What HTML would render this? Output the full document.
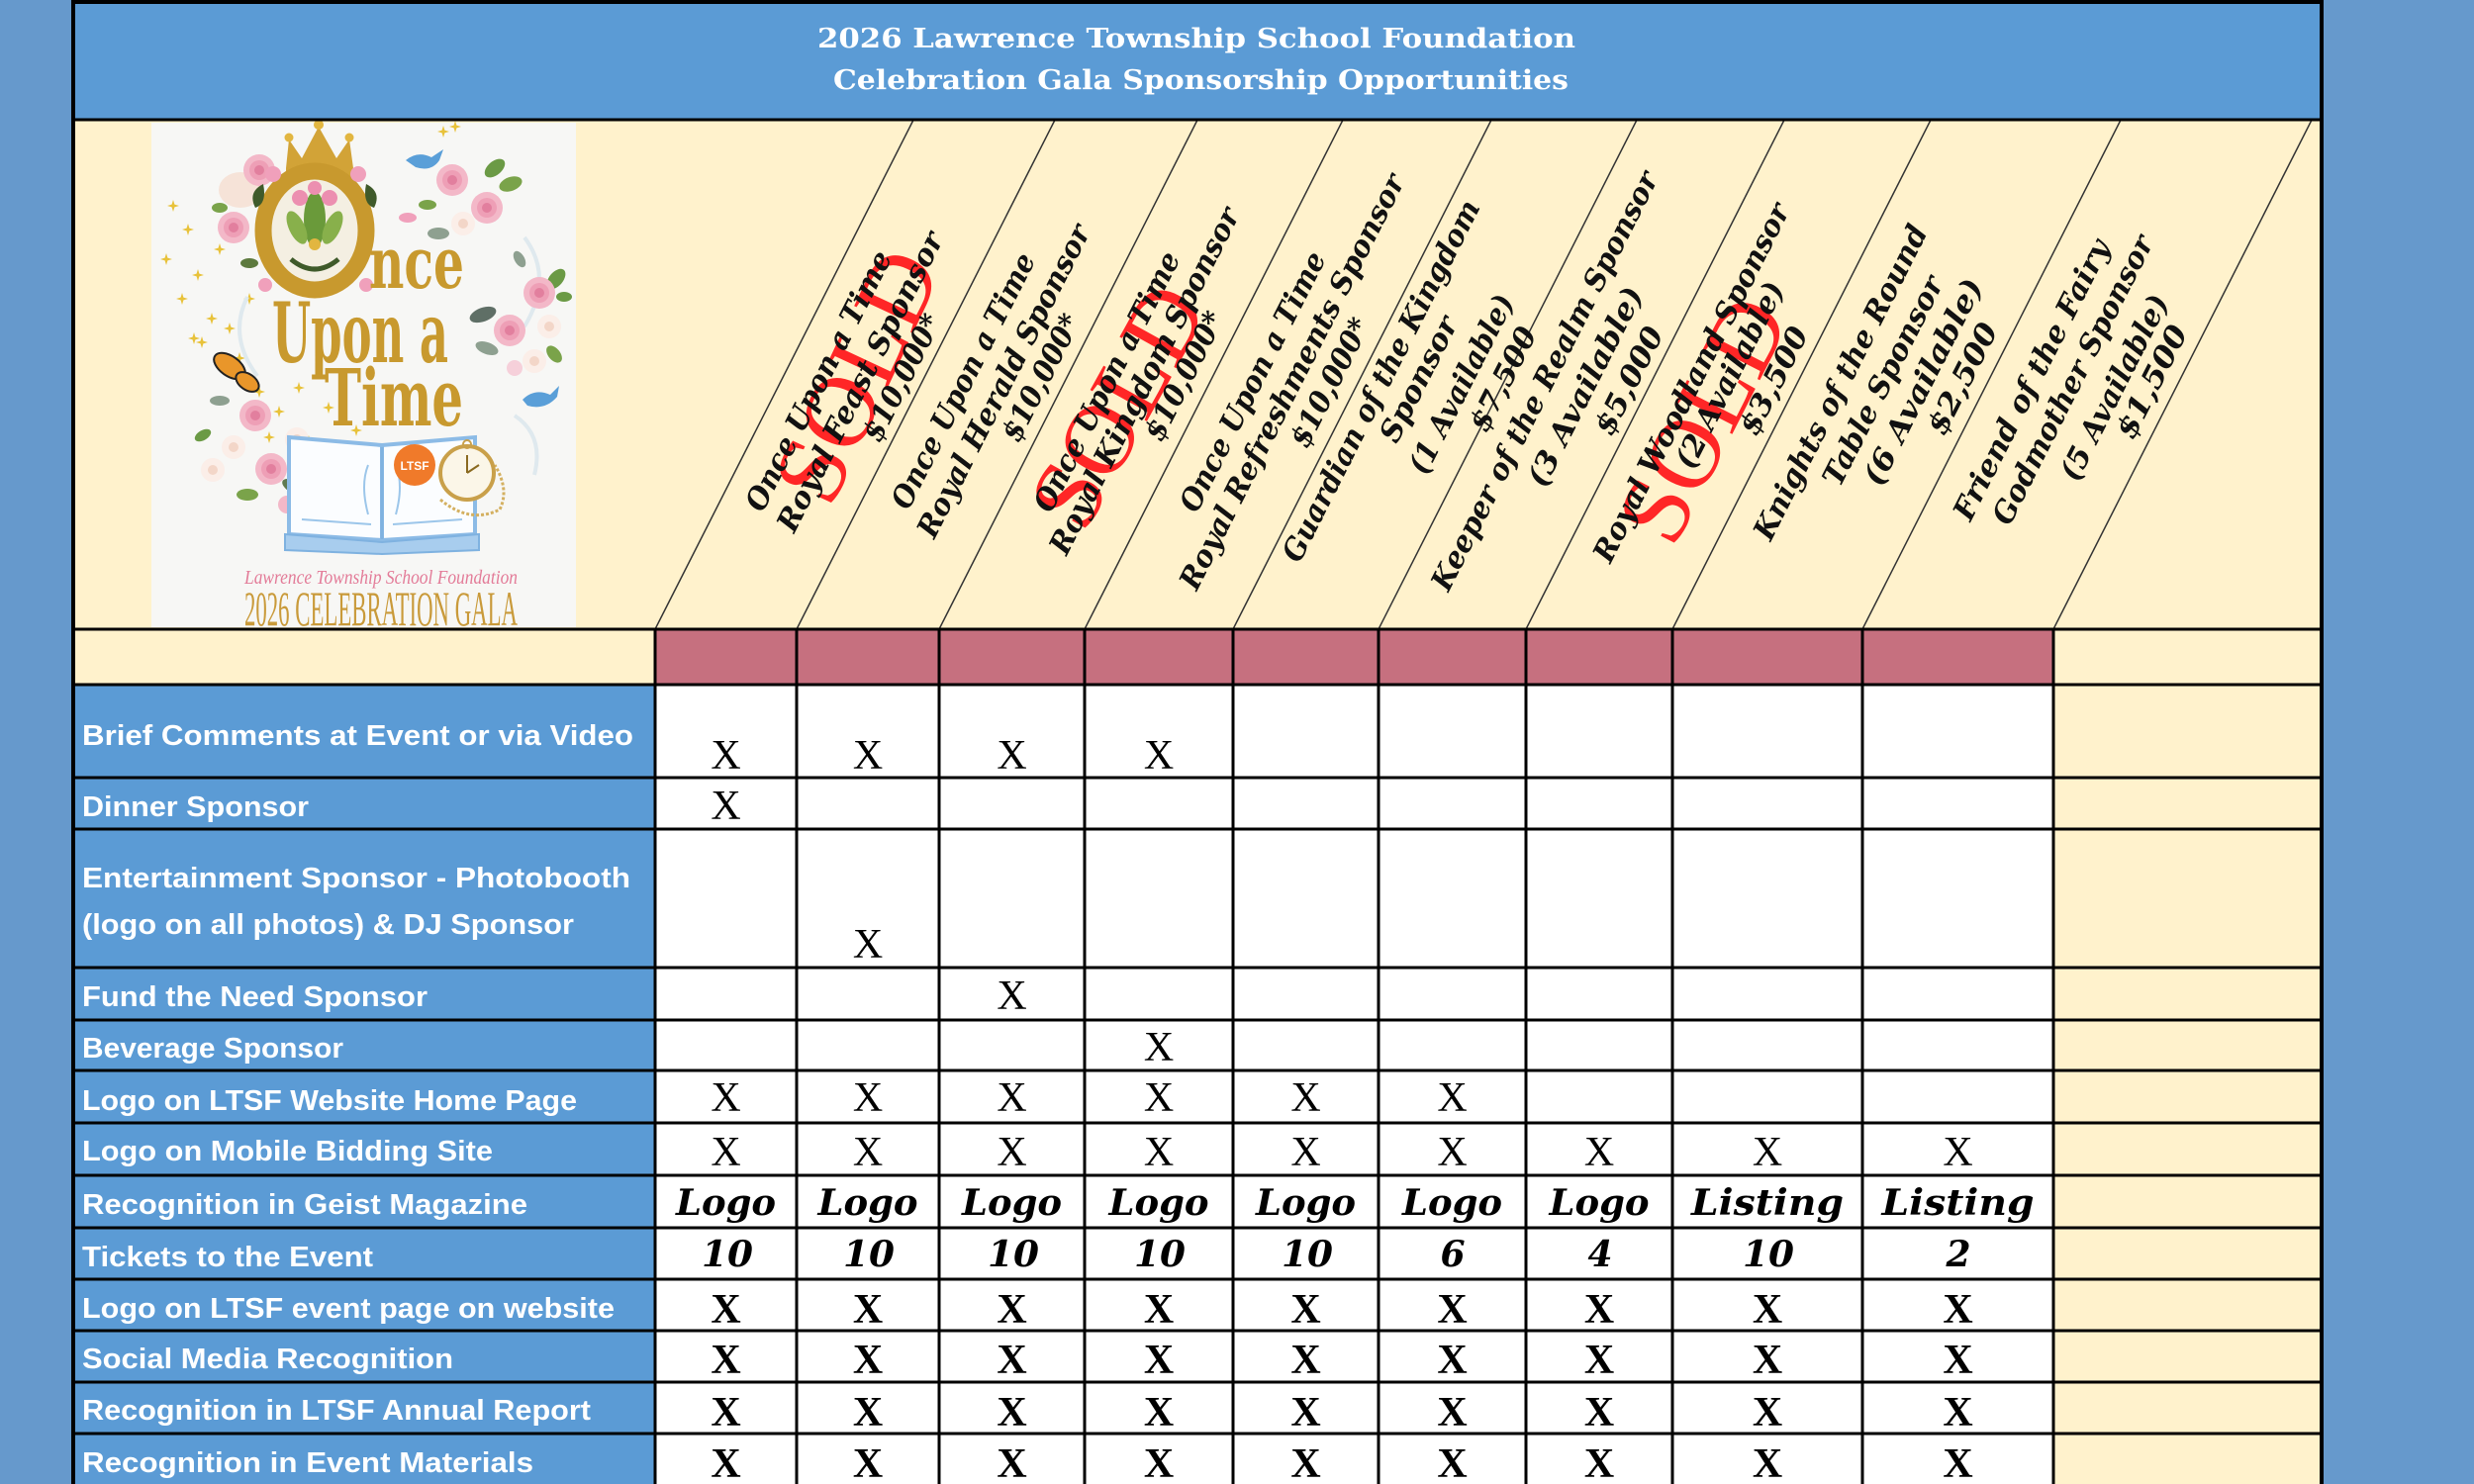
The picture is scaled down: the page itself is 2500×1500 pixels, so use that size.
<!DOCTYPE html>
<html>
<head>
<meta charset="utf-8">
<style>
html,body{margin:0;padding:0;background:#6699cc;}
svg{display:block;}
.lbl{font-family:"Liberation Sans",Arial,sans-serif;font-weight:bold;font-size:29px;fill:#ffffff;}
.xr{font-family:"Liberation Serif","Times New Roman",serif;font-size:42px;fill:#000;text-anchor:middle;}
.xb{font-family:"Liberation Serif","Times New Roman",serif;font-weight:bold;font-size:42px;fill:#000;text-anchor:middle;}
.bi{font-family:"DejaVu Serif","Liberation Serif",serif;font-weight:bold;font-style:italic;font-size:36px;fill:#000;text-anchor:middle;}
.hd{font-family:"DejaVu Serif","Liberation Serif",serif;font-weight:bold;font-style:italic;font-size:30px;fill:#111;text-anchor:middle;}
.sold{font-family:"Liberation Serif","Times New Roman",serif;font-size:100px;fill:#ff2626;text-anchor:middle;}
.ttl{font-family:"DejaVu Serif","Liberation Serif",serif;font-weight:bold;font-size:27px;fill:#ffffff;}
</style>
</head>
<body>
<svg width="2500" height="1500" viewBox="0 0 2500 1500" xmlns="http://www.w3.org/2000/svg">
<defs>
<path id="st" d="M0,-6 L1.4,-1.4 L6,0 L1.4,1.4 L0,6 L-1.4,1.4 L-6,0 L-1.4,-1.4Z" fill="#e8c23a"/>
<g id="rose"><circle r="16" fill="#f3b8c8"/><circle r="10" fill="#ee9fb6"/><circle r="5" fill="#e27f9e"/></g>
<g id="wrose"><circle r="12" fill="#fbeee8"/><circle r="5" fill="#f3d6c8"/></g>
</defs>

<rect x="0" y="0" width="2500" height="1500" fill="#6699cc"/>

<rect x="74" y="2" width="2272" height="119" fill="#5b9bd5"/>
<text class="ttl" x="826" y="48" textLength="766" lengthAdjust="spacingAndGlyphs">2026 Lawrence Township School Foundation</text>
<text class="ttl" x="842" y="90" textLength="743" lengthAdjust="spacingAndGlyphs">Celebration Gala Sponsorship Opportunities</text>

<rect x="74" y="121" width="2272" height="515" fill="#fff2cc"/>

<!-- logo -->
<g>
<rect x="153" y="124" width="429" height="510" fill="#f7f7f5"/>
<use href="#st" x="175" y="208"/><use href="#st" x="190" y="232"/><use href="#st" x="168" y="262"/>
<use href="#st" x="200" y="278"/><use href="#st" x="184" y="302"/><use href="#st" x="214" y="322"/>
<use href="#st" x="204" y="346"/><use href="#st" x="232" y="332"/><use href="#st" x="252" y="302"/>
<use href="#st" x="242" y="362"/><use href="#st" x="262" y="396"/><use href="#st" x="282" y="416"/>
<use href="#st" x="302" y="392"/><use href="#st" x="272" y="442"/><use href="#st" x="312" y="446"/>
<use href="#st" x="332" y="412"/><use href="#st" x="346" y="452"/><use href="#st" x="362" y="472"/>
<use href="#st" x="222" y="252"/><use href="#st" x="196" y="342"/><use href="#st" x="340" y="500"/>
<use href="#st" x="360" y="435"/><use href="#st" x="448" y="133"/><use href="#st" x="460" y="128"/>
<!-- swirls -->
<path d="M250,300 q-20,40 10,80 M530,240 q30,40 0,90 M520,420 q30,20 20,60" stroke="#dfe9ee" stroke-width="4" fill="none"/>
<!-- left top roses -->
<ellipse cx="243" cy="192" rx="22" ry="18" fill="#f6e3d8"/>
<use href="#rose" x="236" y="230"/>
<use href="#rose" x="262" y="172" transform="scale(1)"/>
<ellipse cx="270" cy="252" rx="9" ry="5" fill="#5d7a3e" transform="rotate(-30 270 252)"/>
<ellipse cx="252" cy="266" rx="9" ry="5" fill="#5d7a3e"/>
<ellipse cx="222" cy="210" rx="8" ry="5" fill="#7aa34a"/>
<!-- crown -->
<polygon points="289,183 357,183 357,170 353,141 340,160 322,128 305,160 292,141 289,170" fill="#d2a337"/>
<circle cx="292" cy="139" r="4.5" fill="#e2b640"/>
<circle cx="322" cy="126" r="5" fill="#e2b640"/>
<circle cx="353" cy="139" r="4.5" fill="#e2b640"/>
<!-- ornate O -->
<ellipse cx="318" cy="233" rx="52" ry="60" fill="#f4efe2" stroke="#c8992e" stroke-width="17"/>
<ellipse cx="318" cy="222" rx="11" ry="28" fill="#6a9a3a"/>
<ellipse cx="300" cy="230" rx="8" ry="18" fill="#88b04b" transform="rotate(-25 300 230)"/>
<ellipse cx="336" cy="230" rx="8" ry="18" fill="#88b04b" transform="rotate(25 336 230)"/>
<circle cx="303" cy="200" r="8" fill="#ec8fb0"/>
<circle cx="333" cy="200" r="8" fill="#ec8fb0"/>
<circle cx="318" cy="190" r="7" fill="#ec8fb0"/>
<circle cx="318" cy="247" r="6" fill="#e2b640"/>
<path d="M294,262 Q318,282 342,262" stroke="#3f5a2a" stroke-width="5" fill="none"/>
<path d="M266,186 q-16,8 -8,24 q12,-4 8,-24z" fill="#3f5a2a"/>
<path d="M370,186 q16,8 8,24 q-12,-4 -8,-24z" fill="#3f5a2a"/>
<circle cx="276" cy="176" r="8" fill="#f0a0bb"/>
<circle cx="362" cy="176" r="8" fill="#f0a0bb"/>
<circle cx="268" cy="288" r="7" fill="#f0a0bb"/>
<circle cx="370" cy="288" r="7" fill="#f0a0bb"/>
<!-- gold title words -->
<text x="373" y="291" font-family="DejaVu Serif, serif" font-weight="bold" font-size="72" fill="#c8992e" textLength="96" lengthAdjust="spacingAndGlyphs">nce</text>
<text x="275" y="366" font-family="DejaVu Serif, serif" font-weight="bold" font-size="84" fill="#c8992e" textLength="178" lengthAdjust="spacingAndGlyphs">Upon a</text>
<text x="328" y="430" font-family="DejaVu Serif, serif" font-weight="bold" font-size="80" fill="#c8992e" textLength="140" lengthAdjust="spacingAndGlyphs">Time</text>
<!-- top right roses + bird -->
<path d="M410,162 q12,-10 26,-3 l12,-8 -4,11 q-8,12 -24,7z" fill="#5a9fd8"/>
<use href="#rose" x="457" y="182"/>
<use href="#rose" x="492" y="210"/>
<use href="#wrose" x="468" y="226"/>
<ellipse cx="500" cy="170" rx="12" ry="7" fill="#6b9a45" transform="rotate(-40 500 170)"/>
<ellipse cx="516" cy="186" rx="12" ry="7" fill="#7aa34a" transform="rotate(-20 516 186)"/>
<ellipse cx="443" cy="236" rx="11" ry="6" fill="#8ea090"/>
<ellipse cx="432" cy="207" rx="9" ry="5" fill="#7aa34a"/>
<ellipse cx="412" cy="220" rx="9" ry="5" fill="#f0a0bb"/>
<!-- right side flowers -->
<ellipse cx="525" cy="262" rx="9" ry="5" fill="#8ea090" transform="rotate(60 525 262)"/>
<ellipse cx="562" cy="282" rx="12" ry="7" fill="#6b9a45" transform="rotate(-50 562 282)"/>
<use href="#rose" x="545" y="296"/>
<use href="#rose" x="515" y="334"/>
<use href="#wrose" x="555" y="330"/>
<use href="#wrose" x="540" y="365"/>
<circle cx="520" cy="372" r="8" fill="#f6d0da"/>
<ellipse cx="488" cy="318" rx="14" ry="7" fill="#5f6f66" transform="rotate(-20 488 318)"/>
<ellipse cx="492" cy="352" rx="12" ry="6" fill="#8ea090" transform="rotate(20 492 352)"/>
<ellipse cx="560" cy="358" rx="10" ry="6" fill="#7aa34a" transform="rotate(50 560 358)"/>
<ellipse cx="570" cy="300" rx="8" ry="5" fill="#6b9a45"/>
<path d="M528,404 q12,-12 28,-5 l9,-9 -2,11 q-12,14 -30,9z" fill="#5a9fd8"/>
<!-- butterfly -->
<ellipse cx="232" cy="370" rx="18" ry="10" fill="#e9962a" stroke="#222" stroke-width="2" transform="rotate(35 232 370)"/>
<ellipse cx="250" cy="386" rx="13" ry="8" fill="#e9962a" stroke="#222" stroke-width="2" transform="rotate(35 250 386)"/>
<!-- left bottom flowers -->
<ellipse cx="222" cy="405" rx="10" ry="5" fill="#8ea090"/>
<use href="#rose" x="258" y="420"/>
<use href="#wrose" x="236" y="452"/>
<use href="#rose" x="274" y="474"/>
<use href="#wrose" x="300" y="444"/>
<use href="#wrose" x="215" y="475"/>
<circle cx="290" cy="510" r="9" fill="#f3b8c8"/>
<ellipse cx="296" cy="492" rx="12" ry="6" fill="#5f7a50" transform="rotate(30 296 492)"/>
<ellipse cx="250" cy="500" rx="11" ry="6" fill="#7aa34a"/>
<ellipse cx="315" cy="472" rx="10" ry="5" fill="#8ea090"/>
<ellipse cx="322" cy="503" rx="9" ry="5" fill="#6b9a45"/>
<ellipse cx="205" cy="440" rx="9" ry="5" fill="#6b9a45" transform="rotate(-30 205 440)"/>
<!-- book -->
<polygon points="292,442 386,450 386,546 292,540" fill="#fbfdff" stroke="#8cbbe6" stroke-width="4"/>
<polygon points="386,450 480,442 480,540 386,546" fill="#fbfdff" stroke="#8cbbe6" stroke-width="4"/>
<polygon points="288,540 386,548 484,540 484,556 386,560 288,556" fill="#a8cdee" stroke="#7fb2e0" stroke-width="2"/>
<line x1="386" y1="452" x2="386" y2="545" stroke="#7fb2e0" stroke-width="3"/>
<path d="M372,470 q-8,20 0,50 M400,470 q8,20 0,50 M305,525 l70,5 M397,530 l70,-5" stroke="#9cc6ea" stroke-width="2" fill="none"/>
<!-- LTSF badge -->
<circle cx="419" cy="470" r="21" fill="#f07a2a"/>
<text x="419" y="475" font-family="Liberation Sans, sans-serif" font-weight="bold" font-size="12" fill="#fff" text-anchor="middle">LTSF</text>
<!-- clock -->
<path d="M445,505 q30,25 60,10 q10,-20 -5,-45" stroke="#d4b060" stroke-width="3" fill="none" stroke-dasharray="3 2"/>
<circle cx="472" cy="478" r="27" fill="#fbf6e8" stroke="#c9a04a" stroke-width="4"/>
<line x1="472" y1="478" x2="472" y2="460" stroke="#8a6a20" stroke-width="2"/>
<line x1="472" y1="478" x2="484" y2="470" stroke="#8a6a20" stroke-width="2"/>
<circle cx="472" cy="449" r="4" fill="none" stroke="#c9a04a" stroke-width="2"/>
<!-- captions -->
<text x="247" y="590" font-family="Liberation Serif, serif" font-style="italic" font-size="20" fill="#e37b98" textLength="276" lengthAdjust="spacingAndGlyphs">Lawrence Township School Foundation</text>
<text x="247" y="632" font-family="Liberation Serif, serif" font-size="50" fill="#c99a3a" textLength="276" lengthAdjust="spacingAndGlyphs">2026 CELEBRATION GALA</text>
</g>

<!-- diagonal header lines -->
<g stroke="#333" stroke-width="1.5">
<line x1="662" y1="636" x2="922.6" y2="122"/>
<line x1="805" y1="636" x2="1065.6" y2="122"/>
<line x1="949" y1="636" x2="1209.6" y2="122"/>
<line x1="1096" y1="636" x2="1356.6" y2="122"/>
<line x1="1246" y1="636" x2="1506.6" y2="122"/>
<line x1="1393" y1="636" x2="1653.6" y2="122"/>
<line x1="1542" y1="636" x2="1802.6" y2="122"/>
<line x1="1690" y1="636" x2="1950.6" y2="122"/>
<line x1="1882" y1="636" x2="2142.6" y2="122"/>
<line x1="2075" y1="636" x2="2335.6" y2="122"/>
</g>

<!-- SOLD stamps -->
<text class="sold" x="0" y="0" dy="33" transform="translate(866 380) rotate(-65)" textLength="268" lengthAdjust="spacingAndGlyphs">SOLD</text>
<text class="sold" x="0" y="0" dy="33" transform="translate(1130 410) rotate(-61)" textLength="262" lengthAdjust="spacingAndGlyphs">SOLD</text>
<text class="sold" x="0" y="0" dy="33" transform="translate(1721 424) rotate(-63)" textLength="262" lengthAdjust="spacingAndGlyphs">SOLD</text>

<!-- header rotated texts -->
<g>
<text class="hd" x="0" y="0" dy="10" transform="translate(827.3 385) rotate(-63.1)" textLength="290" lengthAdjust="spacingAndGlyphs">Once  Upon  a  Time</text>
<text class="hd" x="0" y="0" dy="10" transform="translate(869.4 385.8) rotate(-63.1)" textLength="335" lengthAdjust="spacingAndGlyphs">Royal Feast Sponsor</text>
<text class="hd" x="0" y="0" dy="10" transform="translate(911.5 381.7) rotate(-63.1)" textLength="140" lengthAdjust="spacingAndGlyphs">$10,000*</text>

<text class="hd" x="0" y="0" dy="10" transform="translate(973.6 385) rotate(-63.1)" textLength="285" lengthAdjust="spacingAndGlyphs">Once  Upon  a  Time</text>
<text class="hd" x="0" y="0" dy="10" transform="translate(1014.4 385) rotate(-63.1)" textLength="350" lengthAdjust="spacingAndGlyphs">Royal Herald Sponsor</text>
<text class="hd" x="0" y="0" dy="10" transform="translate(1052 381.7) rotate(-63.1)" textLength="140" lengthAdjust="spacingAndGlyphs">$10,000*</text>

<text class="hd" x="0" y="0" dy="10" transform="translate(1118.7 385.8) rotate(-63.1)" textLength="290" lengthAdjust="spacingAndGlyphs">Once  Upon  a  Time</text>
<text class="hd" x="0" y="0" dy="10" transform="translate(1156.6 385) rotate(-63.1)" textLength="388" lengthAdjust="spacingAndGlyphs">Royal Kingdom Sponsor</text>
<text class="hd" x="0" y="0" dy="10" transform="translate(1196.7 380) rotate(-63.1)" textLength="142" lengthAdjust="spacingAndGlyphs">$10,000*</text>

<text class="hd" x="0" y="0" dy="10" transform="translate(1266 385.8) rotate(-63.1)" textLength="290" lengthAdjust="spacingAndGlyphs">Once  Upon  a  Time</text>
<text class="hd" x="0" y="0" dy="10" transform="translate(1305.8 385.8) rotate(-63.1)" textLength="466" lengthAdjust="spacingAndGlyphs">Royal Refreshments Sponsor</text>
<text class="hd" x="0" y="0" dy="10" transform="translate(1344 386.7) rotate(-63.1)" textLength="142" lengthAdjust="spacingAndGlyphs">$10,000*</text>

<text class="hd" x="0" y="0" dy="10" transform="translate(1395.7 385) rotate(-63.1)" textLength="405" lengthAdjust="spacingAndGlyphs">Guardian of the Kingdom</text>
<text class="hd" x="0" y="0" dy="10" transform="translate(1433.7 383.3) rotate(-63.1)" textLength="138" lengthAdjust="spacingAndGlyphs">Sponsor</text>
<text class="hd" x="0" y="0" dy="10" transform="translate(1476.8 388.3) rotate(-63.1)" textLength="199" lengthAdjust="spacingAndGlyphs">(1 Available)</text>
<text class="hd" x="0" y="0" dy="10" transform="translate(1518.9 383.3) rotate(-63.1)" textLength="114" lengthAdjust="spacingAndGlyphs">$7,500</text>

<text class="hd" x="0" y="0" dy="10" transform="translate(1561 385) rotate(-63.1)" textLength="470" lengthAdjust="spacingAndGlyphs">Keeper of the Realm Sponsor</text>
<text class="hd" x="0" y="0" dy="10" transform="translate(1602 390.8) rotate(-63.1)" textLength="222" lengthAdjust="spacingAndGlyphs">(3 Available)</text>
<text class="hd" x="0" y="0" dy="10" transform="translate(1646.2 385) rotate(-63.1)" textLength="118" lengthAdjust="spacingAndGlyphs">$5,000</text>

<text class="hd" x="0" y="0" dy="10" transform="translate(1709.3 386.7) rotate(-63.1)" textLength="402" lengthAdjust="spacingAndGlyphs">Royal Woodland Sponsor</text>
<text class="hd" x="0" y="0" dy="10" transform="translate(1748 379) rotate(-63.1)" textLength="207" lengthAdjust="spacingAndGlyphs">(2 Available)</text>
<text class="hd" x="0" y="0" dy="10" transform="translate(1792.5 385) rotate(-63.1)" textLength="118" lengthAdjust="spacingAndGlyphs">$3,500</text>

<text class="hd" x="0" y="0" dy="10" transform="translate(1860 386.5) rotate(-63.1)" textLength="352" lengthAdjust="spacingAndGlyphs">Knights of the Round</text>
<text class="hd" x="0" y="0" dy="10" transform="translate(1902.9 385) rotate(-63.1)" textLength="233" lengthAdjust="spacingAndGlyphs">Table Sponsor</text>
<text class="hd" x="0" y="0" dy="10" transform="translate(1943.4 386) rotate(-63.1)" textLength="230" lengthAdjust="spacingAndGlyphs">(6 Available)</text>
<text class="hd" x="0" y="0" dy="10" transform="translate(1983.2 382.8) rotate(-63.1)" textLength="122" lengthAdjust="spacingAndGlyphs">$2,500</text>

<text class="hd" x="0" y="0" dy="10" transform="translate(2053 384) rotate(-63.1)" textLength="313" lengthAdjust="spacingAndGlyphs">Friend of the Fairy</text>
<text class="hd" x="0" y="0" dy="10" transform="translate(2094.8 384) rotate(-63.1)" textLength="323" lengthAdjust="spacingAndGlyphs">Godmother Sponsor</text>
<text class="hd" x="0" y="0" dy="10" transform="translate(2136.7 391.7) rotate(-63.1)" textLength="206" lengthAdjust="spacingAndGlyphs">(5 Available)</text>
<text class="hd" x="0" y="0" dy="10" transform="translate(2174.5 386) rotate(-63.1)" textLength="124" lengthAdjust="spacingAndGlyphs">$1,500</text>
</g>

<!-- pink row -->
<rect x="74" y="636" width="588" height="56" fill="#fff2cc"/>
<rect x="662" y="636" width="1413" height="56" fill="#c6707f"/>
<rect x="2075" y="636" width="271" height="56" fill="#fff2cc"/>

<!-- body rows -->
<rect x="74" y="692" width="588" height="808" fill="#5b9bd5"/>
<rect x="662" y="692" width="1413" height="808" fill="#ffffff"/>
<rect x="2075" y="692" width="271" height="808" fill="#fff2cc"/>

<g stroke="#000" stroke-width="3">
<line x1="72" y1="121" x2="2348" y2="121"/>
<line x1="72" y1="636" x2="2348" y2="636"/>
<line x1="72" y1="692" x2="2348" y2="692"/>
<line x1="72" y1="786" x2="2348" y2="786"/>
<line x1="72" y1="838" x2="2348" y2="838"/>
<line x1="72" y1="978" x2="2348" y2="978"/>
<line x1="72" y1="1031" x2="2348" y2="1031"/>
<line x1="72" y1="1082" x2="2348" y2="1082"/>
<line x1="72" y1="1135" x2="2348" y2="1135"/>
<line x1="72" y1="1188" x2="2348" y2="1188"/>
<line x1="72" y1="1241" x2="2348" y2="1241"/>
<line x1="72" y1="1293" x2="2348" y2="1293"/>
<line x1="72" y1="1345" x2="2348" y2="1345"/>
<line x1="72" y1="1397" x2="2348" y2="1397"/>
<line x1="72" y1="1449" x2="2348" y2="1449"/>
</g>
<g stroke="#000" stroke-width="3">
<line x1="662" y1="636" x2="662" y2="1500"/>
<line x1="805" y1="636" x2="805" y2="1500"/>
<line x1="949" y1="636" x2="949" y2="1500"/>
<line x1="1096" y1="636" x2="1096" y2="1500"/>
<line x1="1246" y1="636" x2="1246" y2="1500"/>
<line x1="1393" y1="636" x2="1393" y2="1500"/>
<line x1="1542" y1="636" x2="1542" y2="1500"/>
<line x1="1690" y1="636" x2="1690" y2="1500"/>
<line x1="1882" y1="636" x2="1882" y2="1500"/>
<line x1="2075" y1="636" x2="2075" y2="1500"/>
</g>
<rect x="72" y="0" width="2276" height="4" fill="#000"/>
<rect x="72" y="0" width="4" height="1500" fill="#000"/>
<rect x="2344" y="0" width="4" height="1500" fill="#000"/>

<!-- row labels -->
<text class="lbl" x="83" y="753" textLength="557" lengthAdjust="spacingAndGlyphs">Brief Comments at Event or via Video</text>
<text class="lbl" x="83" y="825" textLength="229" lengthAdjust="spacingAndGlyphs">Dinner Sponsor</text>
<text class="lbl" x="83" y="897" textLength="554" lengthAdjust="spacingAndGlyphs">Entertainment Sponsor - Photobooth</text>
<text class="lbl" x="83" y="944" textLength="497" lengthAdjust="spacingAndGlyphs">(logo on all photos) &amp; DJ Sponsor</text>
<text class="lbl" x="83" y="1017" textLength="349" lengthAdjust="spacingAndGlyphs">Fund the Need Sponsor</text>
<text class="lbl" x="83" y="1069" textLength="264" lengthAdjust="spacingAndGlyphs">Beverage Sponsor</text>
<text class="lbl" x="83" y="1122" textLength="500" lengthAdjust="spacingAndGlyphs">Logo on LTSF Website Home Page</text>
<text class="lbl" x="83" y="1173" textLength="415" lengthAdjust="spacingAndGlyphs">Logo on Mobile Bidding Site</text>
<text class="lbl" x="83" y="1227" textLength="450" lengthAdjust="spacingAndGlyphs">Recognition in Geist Magazine</text>
<text class="lbl" x="83" y="1280" textLength="294" lengthAdjust="spacingAndGlyphs">Tickets to the Event</text>
<text class="lbl" x="83" y="1332" textLength="538" lengthAdjust="spacingAndGlyphs">Logo on LTSF event page on website</text>
<text class="lbl" x="83" y="1383" textLength="375" lengthAdjust="spacingAndGlyphs">Social Media Recognition</text>
<text class="lbl" x="83" y="1435" textLength="514" lengthAdjust="spacingAndGlyphs">Recognition in LTSF Annual Report</text>
<text class="lbl" x="83" y="1488" textLength="456" lengthAdjust="spacingAndGlyphs">Recognition in Event Materials</text>

<text class="xr" x="733.5" y="777">X</text><text class="xr" x="877" y="777">X</text><text class="xr" x="1022.5" y="777">X</text><text class="xr" x="1171" y="777">X</text>
<text class="xr" x="733.5" y="828">X</text>
<text class="xr" x="877" y="968">X</text>
<text class="xr" x="1022.5" y="1020">X</text>
<text class="xr" x="1171" y="1072">X</text>
<text class="xr" x="733.5" y="1123">X</text><text class="xr" x="877" y="1123">X</text><text class="xr" x="1022.5" y="1123">X</text><text class="xr" x="1171" y="1123">X</text><text class="xr" x="1319.5" y="1123">X</text><text class="xr" x="1467.5" y="1123">X</text>
<text class="xr" x="733.5" y="1178">X</text><text class="xr" x="877" y="1178">X</text><text class="xr" x="1022.5" y="1178">X</text><text class="xr" x="1171" y="1178">X</text><text class="xr" x="1319.5" y="1178">X</text><text class="xr" x="1467.5" y="1178">X</text><text class="xr" x="1616" y="1178">X</text><text class="xr" x="1786" y="1178">X</text><text class="xr" x="1978.5" y="1178">X</text>

<text class="bi" x="733.5" y="1228" textLength="101" lengthAdjust="spacingAndGlyphs">Logo</text>
<text class="bi" x="877" y="1228" textLength="101" lengthAdjust="spacingAndGlyphs">Logo</text>
<text class="bi" x="1022.5" y="1228" textLength="101" lengthAdjust="spacingAndGlyphs">Logo</text>
<text class="bi" x="1171" y="1228" textLength="101" lengthAdjust="spacingAndGlyphs">Logo</text>
<text class="bi" x="1319.5" y="1228" textLength="101" lengthAdjust="spacingAndGlyphs">Logo</text>
<text class="bi" x="1467.5" y="1228" textLength="101" lengthAdjust="spacingAndGlyphs">Logo</text>
<text class="bi" x="1616" y="1228" textLength="101" lengthAdjust="spacingAndGlyphs">Logo</text>
<text class="bi" x="1786" y="1228" textLength="154" lengthAdjust="spacingAndGlyphs">Listing</text>
<text class="bi" x="1978.5" y="1228" textLength="154" lengthAdjust="spacingAndGlyphs">Listing</text>

<text class="bi" x="735" y="1280" textLength="52" lengthAdjust="spacingAndGlyphs">10</text>
<text class="bi" x="878" y="1280" textLength="52" lengthAdjust="spacingAndGlyphs">10</text>
<text class="bi" x="1024" y="1280" textLength="52" lengthAdjust="spacingAndGlyphs">10</text>
<text class="bi" x="1172" y="1280" textLength="52" lengthAdjust="spacingAndGlyphs">10</text>
<text class="bi" x="1321" y="1280" textLength="52" lengthAdjust="spacingAndGlyphs">10</text>
<text class="bi" x="1468" y="1280">6</text>
<text class="bi" x="1617" y="1280">4</text>
<text class="bi" x="1787" y="1280" textLength="52" lengthAdjust="spacingAndGlyphs">10</text>
<text class="bi" x="1979" y="1280">2</text>

<g>
<text class="xb" x="733.5" y="1337">X</text><text class="xb" x="877" y="1337">X</text><text class="xb" x="1022.5" y="1337">X</text><text class="xb" x="1171" y="1337">X</text><text class="xb" x="1319.5" y="1337">X</text><text class="xb" x="1467.5" y="1337">X</text><text class="xb" x="1616" y="1337">X</text><text class="xb" x="1786" y="1337">X</text><text class="xb" x="1978.5" y="1337">X</text>
<text class="xb" x="733.5" y="1388">X</text><text class="xb" x="877" y="1388">X</text><text class="xb" x="1022.5" y="1388">X</text><text class="xb" x="1171" y="1388">X</text><text class="xb" x="1319.5" y="1388">X</text><text class="xb" x="1467.5" y="1388">X</text><text class="xb" x="1616" y="1388">X</text><text class="xb" x="1786" y="1388">X</text><text class="xb" x="1978.5" y="1388">X</text>
<text class="xb" x="733.5" y="1441">X</text><text class="xb" x="877" y="1441">X</text><text class="xb" x="1022.5" y="1441">X</text><text class="xb" x="1171" y="1441">X</text><text class="xb" x="1319.5" y="1441">X</text><text class="xb" x="1467.5" y="1441">X</text><text class="xb" x="1616" y="1441">X</text><text class="xb" x="1786" y="1441">X</text><text class="xb" x="1978.5" y="1441">X</text>
<text class="xb" x="733.5" y="1493">X</text><text class="xb" x="877" y="1493">X</text><text class="xb" x="1022.5" y="1493">X</text><text class="xb" x="1171" y="1493">X</text><text class="xb" x="1319.5" y="1493">X</text><text class="xb" x="1467.5" y="1493">X</text><text class="xb" x="1616" y="1493">X</text><text class="xb" x="1786" y="1493">X</text><text class="xb" x="1978.5" y="1493">X</text>
</g>
</svg>
</body>
</html>
